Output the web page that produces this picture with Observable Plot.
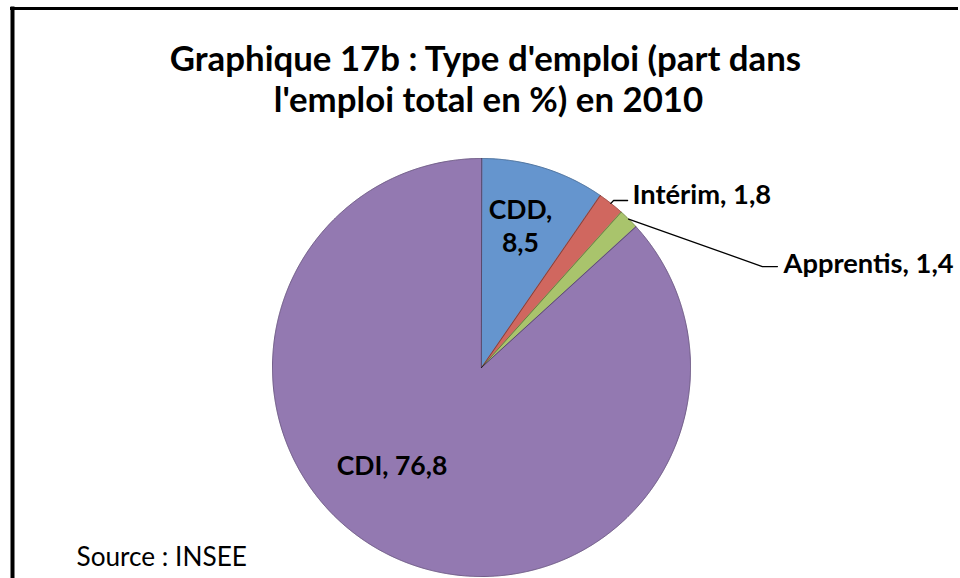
<!DOCTYPE html>
<html><head><meta charset="utf-8">
<script src="https://cdn.jsdelivr.net/npm/d3@7"></script>
<script src="https://cdn.jsdelivr.net/npm/@observablehq/plot@0.6"></script>
<style>
html,body{margin:0;padding:0;background:#fff;overflow:hidden}
svg{display:block}
</style>
</head><body>
<div id="wrap"></div>
<script>
// ---- data ----
const categories = ["CDD", "Intérim", "Apprentis", "CDI"];
const values = [8.5, 1.8, 1.4, 76.8];
const valueLabels = ["8,5", "1,8", "1,4", "76,8"];
const titleLines = ["Graphique 17b : Type d'emploi (part dans", "l'emploi total en %) en 2010"];
const sourceText = "Source : INSEE";

// ---- styles / layout ----
const colors = ["#6595CE", "#D0675F", "#A9C46C", "#9379B1"];
const W = 960, H = 578, CX = 481, CY = 367, R = 209;
const font = "Lato, 'Open Sans', sans-serif";
const ux = px => (px - CX) / R;   // pixel -> unit (decoration only)
const uy = py => (CY - py) / R;

const data = categories.map((c, i) => ({cat: c, value: values[i], label: valueLabels[i]}));
const arcs = d3.pie().sort(null).value(d => d.value)(data);

// slice outlines in unit coordinates (angle 0 = 12 o'clock, clockwise)
const slicePts = [];
for (const a of arcs) {
  const n = Math.max(2, Math.ceil((a.endAngle - a.startAngle) / 0.005));
  slicePts.push({cat: a.data.cat, x: 0, y: 0});
  for (let k = 0; k <= n; ++k) {
    const t = a.startAngle + (a.endAngle - a.startAngle) * k / n;
    slicePts.push({cat: a.data.cat, x: Math.sin(t), y: Math.cos(t)});
  }
}
const mid = a => (a.startAngle + a.endAngle) / 2;
const byCat = Object.fromEntries(arcs.map(a => [a.data.cat, a]));

// inside labels: radius and angle shift (degrees) relative to slice mid-angle
const inside = [
  {cat: "CDD", r: 0.707, shift: -2.0, text: d => d.cat + ",\n" + d.label},
  {cat: "CDI", r: 0.631, shift: 18.9, text: d => d.cat + ", " + d.label}
].map(o => {
  const a = byCat[o.cat], t = mid(a) + o.shift * Math.PI / 180;
  return {x: o.r * Math.sin(t), y: o.r * Math.cos(t), text: o.text(a.data)};
});

// outside labels with leader lines (elbow / end in unit coords)
const outside = [
  {cat: "Intérim", elbow: [0.632, 0.799], end: [0.699, 0.799], tx: 0.722, ty: 0.826},
  {cat: "Apprentis", elbow: [1.344, 0.483], end: [1.416, 0.483], tx: 1.445, ty: 0.494}
];
const leaders = [];
const outLabels = [];
for (const o of outside) {
  const a = byCat[o.cat], t = mid(a);
  leaders.push({cat: o.cat, x: Math.sin(t), y: Math.cos(t)});
  leaders.push({cat: o.cat, x: o.elbow[0], y: o.elbow[1]});
  leaders.push({cat: o.cat, x: o.end[0], y: o.end[1]});
  outLabels.push({x: o.tx, y: o.ty, text: a.data.cat + ", " + a.data.label});
}

const chart = Plot.plot({
  width: W, height: H,
  margin: 0,
  x: {domain: [-CX / R, (W - CX) / R], axis: null},
  y: {domain: [-(H - CY) / R, CY / R], axis: null},
  color: {domain: categories, range: colors},
  style: {fontFamily: font, background: "#fff"},
  marks: [
    Plot.line(slicePts, {x: "x", y: "y", z: "cat", fill: "cat", stroke: "cat", strokeWidth: 1, curve: "linear-closed"}),
    Plot.line(slicePts, {x: "x", y: "y", z: "cat", stroke: "#000", strokeOpacity: 0.22, strokeWidth: 1, curve: "linear-closed"}),
    Plot.line(leaders, {x: "x", y: "y", z: "cat", stroke: "#000", strokeWidth: 1.3}),
    Plot.text(inside, {x: "x", y: "y", text: "text", fontSize: 26.5, fontWeight: "bold", fill: "#000", lineHeight: 1.25, lineAnchor: "middle"}),
    Plot.text(outLabels, {x: "x", y: "y", text: "text", fontSize: 27.3, fontWeight: "bold", fill: "#000", textAnchor: "start", lineAnchor: "middle"}),
    Plot.text([titleLines[0]], {frameAnchor: "top", dx: 5, dy: 46, text: d => d, fontSize: 34.8, fontWeight: "bold", fill: "#000", lineAnchor: "top"}),
    Plot.text([titleLines[1]], {frameAnchor: "top", dx: 8, dy: 87, text: d => d, fontSize: 34.8, fontWeight: "bold", fill: "#000", lineAnchor: "top"}),
    Plot.text([sourceText], {frameAnchor: "top-left", dx: 76, dy: 557, text: d => d, fontSize: 26.2, fill: "#000", textAnchor: "start", lineAnchor: "middle"}),
    // chart-area border (left and top edges visible)
    Plot.ruleX([ux(12)], {y1: uy(6.5), y2: uy(H), stroke: "#000", strokeWidth: 4}),
    Plot.ruleY([uy(8)], {x1: ux(10), x2: ux(958), stroke: "#000", strokeWidth: 3})
  ]
});
document.getElementById("wrap").appendChild(chart);
</script>
</body></html>
